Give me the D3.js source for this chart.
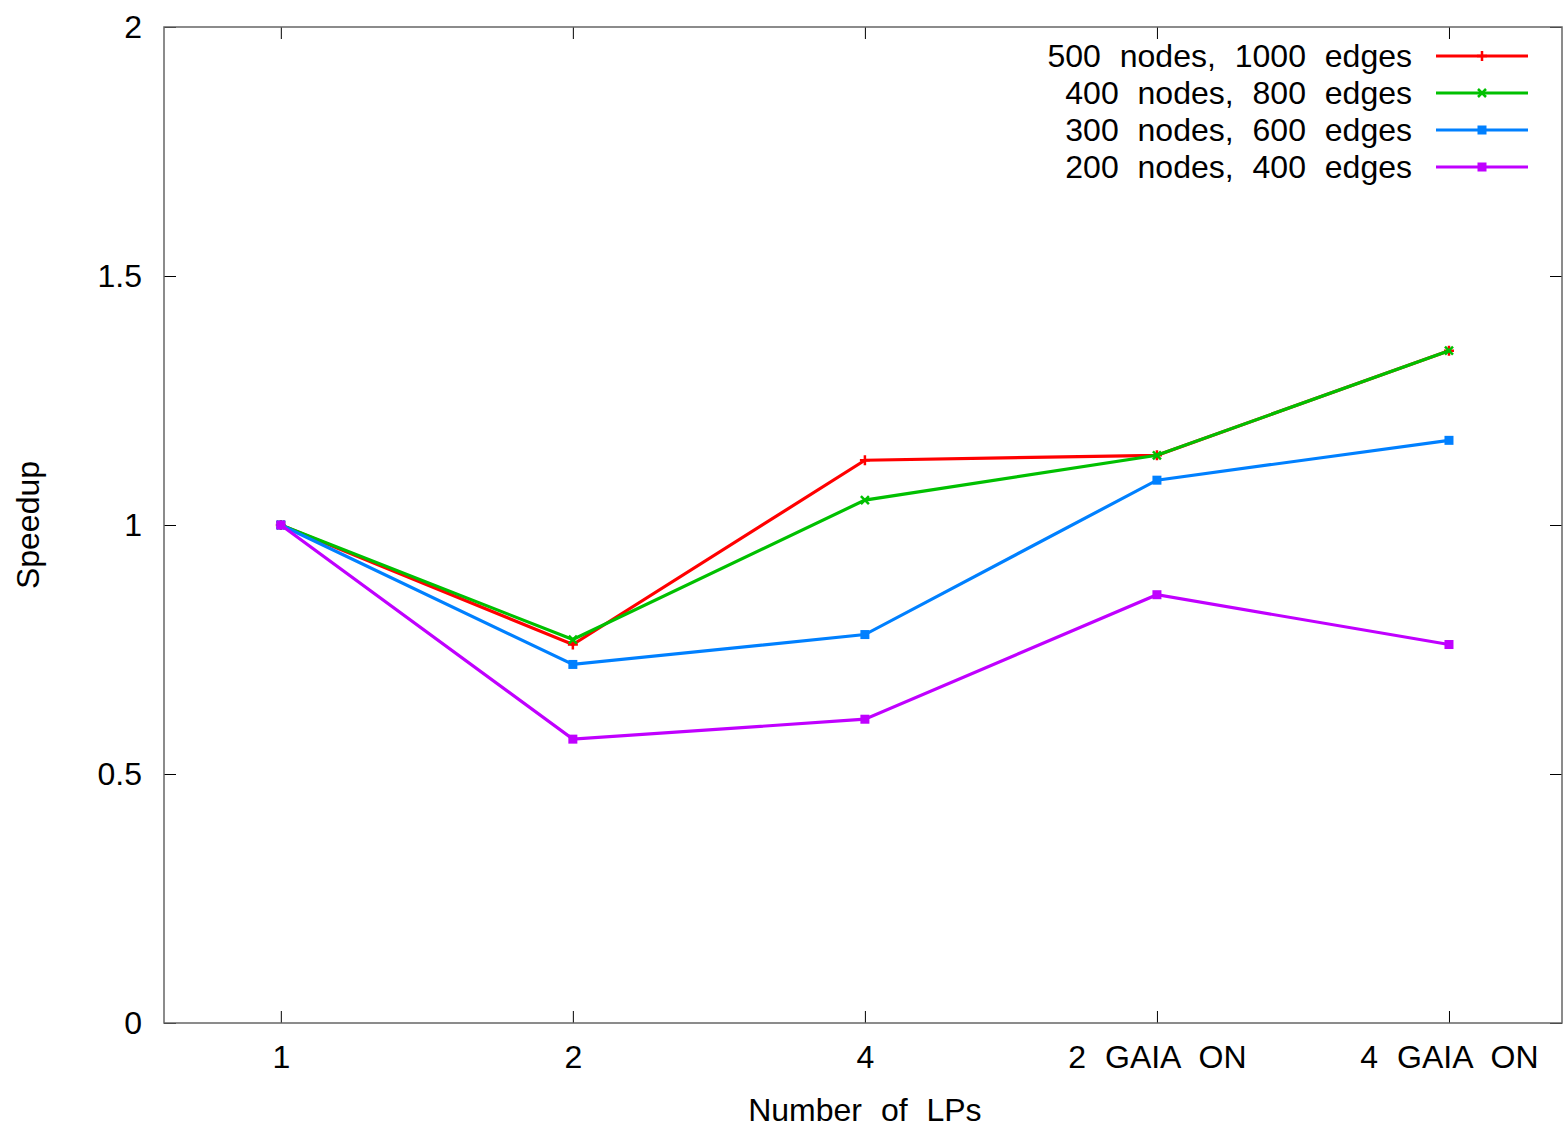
<!DOCTYPE html>
<html>
<head>
<meta charset="utf-8">
<script src="https://cdn.jsdelivr.net/npm/d3@7"></script>
<style>
  body { margin: 0; background: #fff; }
  text { font-family: "Liberation Sans", Arial, sans-serif; fill: #000; }
</style>
</head>
<body>
<div id="chart"></div>
<script>
var svgWidth = 1563;
var svgHeight = 1128;

var margin = { top: 27, right: 1, bottom: 105, left: 164 };
var width = svgWidth - margin.left - margin.right;
var height = svgHeight - margin.top - margin.bottom;

// data
var categories = ["1", "2", "4", "2 GAIA ON", "4 GAIA ON"];
var seriesNames = ["500 nodes, 1000 edges", "400 nodes, 800 edges", "300 nodes, 600 edges", "200 nodes, 400 edges"];
var red = [1, 0.76, 1.13, 1.14, 1.35];
var green = [1, 0.77, 1.05, 1.14, 1.35];
var blue = [1, 0.72, 0.78, 1.09, 1.17];
var purple = [1, 0.57, 0.61, 0.86, 0.76];
var yTicks = [0, 0.5, 1, 1.5, 2];

var colors = ["#ff0000", "#00c000", "#0080ff", "#c000ff"];
var markers = ["plus", "cross", "square", "square"];
var series = [red, green, blue, purple];

var fontSize = 32;
var wordGap = "10px";

var svg = d3.select("#chart").append("svg")
  .attr("width", svgWidth)
  .attr("height", svgHeight);

var chartGroup = svg.append("g")
  .attr("transform", `translate(${margin.left}, ${margin.top})`);

var xScale = d3.scaleLinear().domain([-0.4, 4.387]).range([0, width]);
var yScale = d3.scaleLinear().domain([0, 2]).range([height, 0]);

var tickLen = 12;

// axes (tick marks inward, mirrored on top/right)
var bottomAxis = d3.axisBottom(xScale)
  .tickValues(d3.range(categories.length))
  .tickFormat(i => categories[i])
  .tickSizeInner(-tickLen).tickSizeOuter(0).tickPadding(22);
var leftAxis = d3.axisLeft(yScale)
  .tickValues(yTicks)
  .tickFormat(d3.format("~g"))
  .tickSizeInner(-tickLen).tickSizeOuter(0).tickPadding(22);

var xAxis = chartGroup.append("g")
  .attr("transform", `translate(0, ${height})`)
  .call(bottomAxis);
var yAxis = chartGroup.append("g").call(leftAxis);

chartGroup.append("g")
  .call(d3.axisTop(xScale).tickValues(d3.range(categories.length)).tickFormat("")
    .tickSizeInner(-tickLen).tickSizeOuter(0));
chartGroup.append("g")
  .attr("transform", `translate(${width}, 0)`)
  .call(d3.axisRight(yScale).tickValues(yTicks).tickFormat("")
    .tickSizeInner(-tickLen).tickSizeOuter(0));

chartGroup.selectAll(".domain").remove();
chartGroup.selectAll(".tick line").attr("stroke", "#000").attr("stroke-width", 1);
chartGroup.selectAll(".tick text")
  .style("font-family", "'Liberation Sans', Arial, sans-serif")
  .attr("font-size", fontSize)
  .style("word-spacing", wordGap);
xAxis.selectAll(".tick text").attr("dy", "0.72em");

// frame
chartGroup.append("rect")
  .attr("x", 0).attr("y", 0)
  .attr("width", width).attr("height", height)
  .attr("fill", "none")
  .attr("stroke", "#666")
  .attr("stroke-width", 1.5);

// marker drawing helper
function drawMarker(g, type, x, y, color) {
  if (type === "plus") {
    g.append("path")
      .attr("d", `M${x - 5},${y}h10M${x},${y - 5}v10`)
      .attr("stroke", color).attr("stroke-width", 2.5).attr("fill", "none");
  } else if (type === "cross") {
    g.append("path")
      .attr("d", `M${x - 4},${y - 4}l8,8M${x - 4},${y + 4}l8,-8`)
      .attr("stroke", color).attr("stroke-width", 2.5).attr("fill", "none");
  } else {
    g.append("rect")
      .attr("x", x - 4.5).attr("y", y - 4.5)
      .attr("width", 9).attr("height", 9)
      .attr("fill", color);
  }
}

var line = d3.line()
  .x((d, i) => xScale(i))
  .y(d => yScale(d));

series.forEach(function (values, s) {
  var g = chartGroup.append("g");
  g.append("path")
    .datum(values)
    .attr("d", line)
    .attr("fill", "none")
    .attr("stroke", colors[s])
    .attr("stroke-width", 3.2);
  values.forEach(function (v, i) {
    drawMarker(g, markers[s], xScale(i), yScale(v), colors[s]);
  });
});

// legend
var legend = svg.append("g");
seriesNames.forEach(function (name, s) {
  var y = 56 + s * 37;
  legend.append("text")
    .attr("x", 1412).attr("y", y)
    .attr("dy", "0.35em")
    .attr("text-anchor", "end")
    .attr("font-size", fontSize)
    .style("word-spacing", wordGap)
    .text(name);
  legend.append("line")
    .attr("x1", 1436).attr("x2", 1528)
    .attr("y1", y).attr("y2", y)
    .attr("stroke", colors[s]).attr("stroke-width", 3.2);
  drawMarker(legend, markers[s], 1482, y, colors[s]);
});

// axis titles
svg.append("text")
  .attr("x", margin.left + xScale(2))
  .attr("y", 1110)
  .attr("dy", "0.35em")
  .attr("text-anchor", "middle")
  .attr("font-size", fontSize)
  .style("word-spacing", wordGap)
  .text("Number of LPs");

svg.append("text")
  .attr("transform", `translate(28, ${margin.top + yScale(1)}) rotate(-90)`)
  .attr("dy", "0.35em")
  .attr("text-anchor", "middle")
  .attr("font-size", fontSize)
  .text("Speedup");
</script>
</body>
</html>
